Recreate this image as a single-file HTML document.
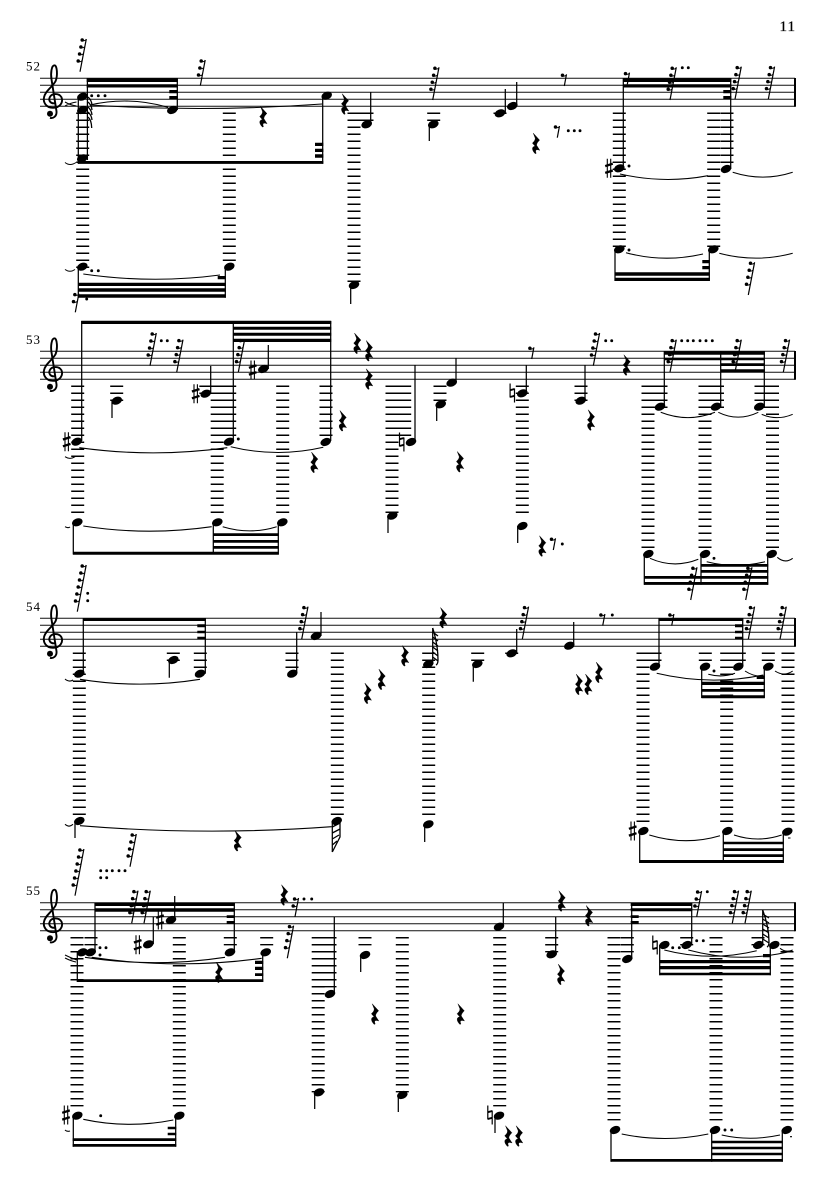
<!DOCTYPE html>
<html><head><meta charset="utf-8"><style>
html,body{margin:0;padding:0;background:#fff}
svg{display:block}
text{font-family:"Liberation Serif",serif;fill:#000}
.st{stroke:#111;stroke-width:1;fill:none}
.s{stroke:#000;stroke-width:1.25;fill:none}
.b{fill:#000}
.t{stroke:#000;stroke-width:1.05;fill:none}
.l{stroke:#000;stroke-width:13;stroke-dasharray:1.5 5.5;fill:none}
.d{stroke:#000;stroke-width:2.9;stroke-linecap:round;fill:none}
.h{stroke:#000;stroke-width:1.3;fill:none}
</style></head><body>
<svg width="835" height="1181" viewBox="0 0 835 1181" xmlns="http://www.w3.org/2000/svg">
<defs>
<ellipse id="n" rx="5.5" ry="3.8" transform="rotate(-22)"/>
<g id="c"><path d="M1.5,25C-2.5,25.5-5,22-3,18.5C-1,15 6,14.5 8.5,19C10.5,24 7,29.5 0,29.5C-7,29.5-10,24-9,19C-8,13-1,9 2.5,3C5,-3 4,-13 1.5,-13C-1.5,-13-2.5,-5-1.5,1L3.5,33C4,38 0,40.5-3,39.5" fill="none" stroke="#000" stroke-width="1.9"/><circle cx="-3" cy="35.5" r="3"/></g>
<path id="q" d="M-2.8,-10.2L3.6,-3.2C1.5,-1 .6,.2 .6,2L3.8,7C.6,5.8-1.4,6.4 .2,10L-.8,10.4C-4.8,6.4-4,3-.8,3L-3.6,-.2C-1.6,-2.2-.8,-3.2-.8,-5.2Z" stroke="#000" stroke-width=".4"/>
<g id="f1"><circle cx="-1.8" cy="-10.7" r="1.75"/><path d="M-1.8,-10.2q2,.8 3.6,-.6" fill="none" stroke="#000" stroke-width="1"/></g>
<g id="f2"><use href="#f1"/><circle cx="-.44" cy="-17.7" r="1.75"/><path d="M-.44,-17.2q2,.8 3.6,-.6" fill="none" stroke="#000" stroke-width="1"/></g>
<g id="f3"><use href="#f2"/><circle cx=".9" cy="-24.7" r="1.75"/><path d="M.9,-24.2q2,.8 3.6,-.6" fill="none" stroke="#000" stroke-width="1"/></g>
<g id="f4"><use href="#f3"/><circle cx="2.2" cy="-31.7" r="1.75"/><path d="M2.2,-31.2q2,.8 3.6,-.6" fill="none" stroke="#000" stroke-width="1"/></g>
<g id="f6"><use href="#f4"/><circle cx="3.55" cy="-38.7" r="1.75"/><path d="M3.55,-38.2q2,.8 3.6,-.6" fill="none" stroke="#000" stroke-width="1"/><circle cx="4.9" cy="-45.7" r="1.75"/><path d="M4.9,-45.2q2,.8 3.6,-.6" fill="none" stroke="#000" stroke-width="1"/></g>
<g id="r1"><use href="#f1"/><path d="M0,0L2.2,-11.7" stroke="#000" stroke-width="1.2"/></g>
<g id="r2"><use href="#f2"/><path d="M0,0L3.55,-18.7" stroke="#000" stroke-width="1.2"/></g>
<g id="r3"><use href="#f3"/><path d="M0,0L4.9,-25.7" stroke="#000" stroke-width="1.2"/></g>
<g id="r4"><use href="#f4"/><path d="M0,0L6.3,-32.7" stroke="#000" stroke-width="1.2"/></g>
<g id="r6"><use href="#f6"/><path d="M0,0L8.9,-46.7" stroke="#000" stroke-width="1.2"/></g>
<g id="sh"><path d="M-1.7,-9.5V9.5M1.7,-9.5V9.5" stroke="#000" stroke-width="1.1" fill="none"/><path d="M-3.8,-2.2L3.8,-4.6M-3.8,4.6L3.8,2.2" stroke="#000" stroke-width="2.3" fill="none"/></g>
<g id="na"><path d="M-2.2,-9.5V4.5M2.2,-4.5V9.5" stroke="#000" stroke-width="1.2" fill="none"/><path d="M-2.2,-2.8L2.2,-4M-2.2,4L2.2,2.8" stroke="#000" stroke-width="1.9" fill="none"/></g>
</defs>
<rect width="835" height="1181" fill="#fff"/>
<text x="779.5" y="31" font-size="15" stroke="#000" stroke-width=".25" textLength="15.5">11</text>
<text x="26" y="70.5" font-size="13" textLength="14">52</text>
<text x="26" y="344" font-size="13" textLength="14">53</text>
<text x="26" y="611" font-size="13" textLength="14">54</text>
<text x="26" y="895" font-size="13" textLength="14">55</text>

<path class="st" d="M40,78.3H795M40,85.3H795M40,92.3H795M40,99.3H795M40,106.3H795M40,351.3H795M40,358.3H795M40,365.3H795M40,372.3H795M40,379.3H795M40,618.3H795M40,625.3H795M40,632.3H795M40,639.3H795M40,646.3H795M40,902.7H795M40,909.7H795M40,916.7H795M40,923.7H795M40,930.7H795"/>
<path d="M795,78V106.8M795,351V379.8M795,618V646.8M795,902.2V931.2" stroke="#000" stroke-width="2" fill="none"/>
<use href="#c" x="53" y="78.3"/><use href="#c" x="53" y="351.3"/><use href="#c" x="53" y="618.3"/><use href="#c" x="53" y="902.7"/>

<!-- ledger lines -->
<path class="l" d="M82.7,112.55V267.95M229.3,112.55V260.95M354,112.55V281.95M367,112.55V120.95M433.7,112.55V120.95M500,112.55V113.95M619.3,112.55V246.95M713.7,112.55V246.95M727,112.55V162.95
M77.7,385.55V512.95M217.2,385.55V512.95M229.7,385.55V435.95M282.7,385.55V512.95M326,385.55V435.95M116.7,385.55V400.95M205.8,385.55V393.95M392,385.55V512.95M404.7,385.55V435.95M440,385.55V400.95M522.3,385.55V512.95M581,385.55V400.95M648,385.55V547.95M661,385.55V407.95M705,385.55V547.95M717.5,385.55V407.95M761,385.55V407.95M772.5,385.55V547.95
M79.3,652.55V814.95M200.3,652.55V667.95M173.3,652.55V660.95M292,652.55V667.95M337.3,652.55V814.95M428.7,652.55V814.95M477.7,652.55V660.95M511.7,652.55V653.95M643,652.55V821.95M655,652.55V660.95M705.3,652.55V660.95M726.7,652.55V821.95M739.3,652.55V660.95M768.3,652.55V660.95M788,652.55V821.95
M77,936.95V1106.35M91,936.95V945.35M179.3,936.95V1106.35M230.3,936.95V945.35M266.7,936.95V945.35M318.2,936.95V1092.35M330,936.95V987.35M365,936.95V945.35M402.3,936.95V1092.35M499.7,936.95V1106.35M551.7,936.95V952.35M614,936.95V1120.35M627.3,936.95V952.35M686.7,936.95V945.35M716,936.95V1120.35M758,936.95V945.35M787,936.95V1120.35"/>

<!-- beams -->
<path class="b" d="M86.7,78.3H177.8V82H86.7zM86.7,84.3H177.8V87.5H86.7zM169.3,90H177.8V93.3H169.3zM169.3,96H177.8V99.3H169.3zM78,161H323.3V163.9H78zM315,142.7H323.3V146H315zM315,148.7H323.3V152H315zM315,154.3H323.3V157.7H315zM78,282.7H225.8V286H78zM78,288.3H225.8V291.7H78zM78,294.3H225.8V297.7H78zM217.7,276H225.8V279.3H217.7zM623,78.3H731.3V82H623zM623,84.3H731.3V87.5H623zM723.3,90H731.3V93.3H723.3zM723.3,96H731.3V99.3H723.3zM615,272.3H709.8V275.7H615zM615,277.7H709.8V281H615zM702.3,260H709.8V263.3H702.3zM702.3,266H709.8V269.3H702.3z
M81.2,320.7H331.2V324H81.2zM233,326.7H331.2V329.7H233zM233,332.7H331.2V335.7H233zM233,338.7H331.2V342H233zM73,551.7H278.8V554.7H73zM213,533.3H278.8V536H213zM213,540H278.8V542.7H213zM213,546H278.8V548.7H213zM664,351.3H764.8V354.7H664zM664,357.7H764.8V360.3H664zM720.5,363.3H764.8V366H720.5zM720.5,369.3H764.8V372.3H720.5zM644,582H768.2V584.9H644zM644,576H768.2V578.7H644zM701.5,564H768.2V566.7H701.5zM701.5,570H768.2V572.7H701.5z
M83,618.3H205.8V621H83zM197.3,624.3H205.8V627.3H197.3zM197.3,630.7H205.8V633.3H197.3zM197.3,636.7H205.8V639.3H197.3zM658.5,618.3H743.2V621H658.5zM735,624.3H743.2V627.3H735zM735,630.7H743.2V633.3H735zM735,636.7H743.2V639.3H735zM701.5,681.7H764.8V685H701.5zM701.5,689H764.8V691.7H701.5zM701.5,695.3H764.8V698.3H701.5zM756.7,676H764.8V679H756.7zM639.3,860H783.8V863H639.3zM723,841.7H783.8V844.3H723zM723,848.3H783.8V851H723zM723,854.3H783.8V857H723z
M95,902.7H234.8V906H95zM95,908.3H234.8V911.7H95zM226.7,915.3H234.8V918H226.7zM226.7,921H234.8V923.7H226.7zM77,979.3H263.2V982H77zM255,960.7H263.2V964H255zM255,966.7H263.2V970H255zM255,973.3H263.2V976H255zM72.7,1138.3H176.2V1141H72.7zM72.7,1144H176.2V1146.7H72.7zM167.7,1126.7H176.2V1129.3H167.7zM167.7,1132.7H176.2V1135.3H167.7zM630.7,902.7H692.2V906H630.7zM630.7,908.3H692.2V911.3H630.7zM630.7,915.3H638.7V918H630.7zM630.7,921H638.7V923.7H630.7zM659.4,960H770.8V963.3H659.4zM659.4,966H770.8V969.3H659.4zM659.4,972.7H770.8V975.3H659.4zM763,954H770.8V957.3H763zM611,1159H782.8V1161.7H611zM711.5,1140.7H782.8V1143.3H711.5zM711.5,1146.7H782.8V1149.3H711.5zM711.5,1152.7H782.8V1155.3H711.5z"/>

<!-- stems -->
<path class="s" d="M78.3,96V163.7M87.4,78.5V160M177.3,78.5V110M322.7,98V163.7M78.3,267V297.7M225.3,267V297.7M350.7,285V304M370.7,92V124M429.3,124V141M505.3,89V113M516.7,82V106M623.3,78.5V168M730.7,78.5V169M615,249V281M709.3,249V281
M81.7,321V441M233.3,321V441M330.7,321V441M73.3,522V554.5M213.3,522V554.5M278.3,522V554.5M112,400V418M210.7,366V393.7M268.3,345V369M388,516V533M415,365V442M456,358V382M436.7,404V421M526.3,365V393M517.7,526V543M585,365V400M664.3,351V407M720.7,351V407M764.3,351V407M644.3,554V584.7M701,554V584.7M767.7,554V584.7
M83.3,618V673.7M205.3,618V673.7M169.3,660V677.7M296.7,632V673M321,612V636M75,821V838M332.3,821V852M432.7,628V664M424.7,824V842M473.3,664V681.7M516.7,629V653M573.7,622V645M659,618V666M742.7,618V666M701.7,666V698M764.3,666V698M639.7,831V863M723.3,831V863M783.3,831V863
M95,903V952M234.3,903V951M77.3,952V982M262.7,952V982M153.3,917V944M174.7,896V920M73.3,1115V1146.7M175.7,1115V1146.7M314.7,1092V1109M334.3,917V994M360.7,955V972M398.3,1095V1112M503.3,903V926M495,1115V1133M555.7,917V954M611,1130V1161.7M631.7,903V959M691.7,903V945M659.7,945V975.3M770.3,945V975.3M762.7,910V945M711.7,1130V1161.7M782.3,1130V1161.7"/>

<!-- hatched flags -->
<path class="h" d="M88,97q3.5,3 4,8M88,102q3.5,3 4,8M88,107q3.5,3 4,8M88,112q3.5,3 4,8M88,117q3.5,3 3.7,11M332.3,827L340,823M332.3,833L340,829M332.3,839L339,835M332.3,845L337,841M340,821V837L332.3,852M432.7,632L438,636M432.7,637L438,641M432.7,642L438,646M432.7,647L438,651M432.7,652L438,656M432.7,657L438,661M432.7,628Q438,645 438,660Q438,664 436,665M762.7,914L769,918M762.7,919L769,923M762.7,924L769,928M762.7,929L769,933M762.7,934L769,938M762.7,939L769,943M762.7,910Q769,927 769,942Q769,946 767,947"/>

<!-- ties -->
<path class="t" d="M90,105Q129,96 168,107.3M90,105Q206,112.5 322,104M65,102Q70,105 76.5,106M65,106Q70,103 76.5,102M65,162.5Q70,166.5 76,162.5M65,269.5Q70,273 75,269.5M83.3,274Q152,284 220,275M620,174Q664,184 708,175.7M732.7,172.3Q763,182 792.7,172.3M626,252.7Q664,263 703,254M719.3,253.3Q756,263 792.7,253.3
M79.3,447.7Q153,458 227.3,447.7M230.7,446.7Q277,458 323.3,447.3M83.3,526Q147,536 211.7,526.7M222.7,526.7Q250,535 276.7,526.7M65,456.7Q70,460 75,456.7M65,526.7Q68,528.5 70,527M660.7,412.3Q688,423 715,412.3M718.3,412.3Q738,422 758.3,412.3M761.7,414.3Q777,421 792.7,414.3M650,558.3Q674,569 698.3,559.3M706.7,561.7Q736,569 765,561.7M777.3,557.3Q785,564 792.7,558.3
M80,679.3Q140,689 200,679.3M65,679Q69,682.5 73,680M65,824.3Q69,828 73,824.3M80,825.7Q206,836 331.7,826.7M656.7,673.3Q710,686 763.3,675M708.3,674.3Q722,678 735,673.3M745,671Q754,677 764,676M775,671Q784,677 792.7,671M649.3,835Q685,846 720,835.7M734,835Q758,843 781.7,835M788,838h2.5
M85,957.3Q155,968 225,957.3M91.7,957.3Q177,970 261.7,958.3M65,955Q71,958 76.7,960M65,958Q71,961 76,962M83.3,1119.3Q128,1129 173.3,1120M65,1130Q67,1132 70,1131M664.3,950Q710,962 756.7,950.7M688.3,950Q740,964 792,951M780,948.3Q786,953 792.7,950M621.7,1134Q665,1143 708.3,1134M721.7,1135Q750,1141.5 780,1135M790,1136.7h2"/>

<!-- noteheads -->
<use href="#n" x="82.3" y="96.7"/><use href="#n" x="82.3" y="110"/><use href="#n" x="82.3" y="158.3"/><use href="#n" x="172.3" y="110"/><use href="#n" x="326.7" y="95.7"/><use href="#n" x="82.3" y="266.7"/><use href="#n" x="229.3" y="266.7"/><use href="#n" x="354" y="285"/><use href="#n" x="366.7" y="124.3"/><use href="#n" x="433.3" y="124.3"/><use href="#n" x="500" y="113.3"/><use href="#n" x="512.3" y="106"/><use href="#n" x="619.3" y="168.3"/><use href="#n" x="726" y="169"/><use href="#n" x="619.3" y="249.3"/><use href="#n" x="713.3" y="249.3"/>
<use href="#n" x="76.7" y="441.7"/><use href="#n" x="229" y="441.7"/><use href="#n" x="325.7" y="442"/><use href="#n" x="77.3" y="522.3"/><use href="#n" x="217.3" y="522.3"/><use href="#n" x="282.3" y="522.3"/><use href="#n" x="116.7" y="400.7"/><use href="#n" x="205.7" y="393.7"/><use href="#n" x="263.3" y="369"/><use href="#n" x="392.3" y="515.7"/><use href="#n" x="411" y="442"/><use href="#n" x="451.7" y="382.7"/><use href="#n" x="440.7" y="404.3"/><use href="#n" x="522.3" y="393.3"/><use href="#n" x="522.3" y="526"/><use href="#n" x="580.7" y="400.7"/><use href="#n" x="660" y="406.7"/><use href="#n" x="716" y="406.7"/><use href="#n" x="759.3" y="406.7"/><use href="#n" x="648.3" y="554"/><use href="#n" x="705" y="554"/><use href="#n" x="771.7" y="554"/>
<use href="#n" x="79.3" y="673.7"/><use href="#n" x="200" y="673.7"/><use href="#n" x="173.3" y="660"/><use href="#n" x="292.3" y="673.7"/><use href="#n" x="316" y="636"/><use href="#n" x="79.3" y="821"/><use href="#n" x="336.7" y="821"/><use href="#n" x="428.3" y="664"/><use href="#n" x="428.3" y="824.3"/><use href="#n" x="477.3" y="664"/><use href="#n" x="511.7" y="653.3"/><use href="#n" x="569.3" y="645.7"/><use href="#n" x="655" y="666.7"/><use href="#n" x="738.3" y="666.7"/><use href="#n" x="705" y="666.7"/><use href="#n" x="768.3" y="666.7"/><use href="#n" x="643.3" y="831"/><use href="#n" x="727.3" y="831"/><use href="#n" x="787.3" y="831.7"/>
<use href="#n" x="82.3" y="952.3"/><use href="#n" x="90.7" y="952.3"/><use href="#n" x="230" y="952.3"/><use href="#n" x="265.7" y="952.3"/><use href="#n" x="148.3" y="944.3"/><use href="#n" x="171" y="920"/><use href="#n" x="77.3" y="1115.7"/><use href="#n" x="179.3" y="1115.7"/><use href="#n" x="319" y="1092.3"/><use href="#n" x="330" y="994"/><use href="#n" x="365" y="955"/><use href="#n" x="402.3" y="1095"/><use href="#n" x="499" y="926.7"/><use href="#n" x="499" y="1115.7"/><use href="#n" x="551.7" y="954.3"/><use href="#n" x="615" y="1130"/><use href="#n" x="627.3" y="959"/><use href="#n" x="686.7" y="945"/><use href="#n" x="664.3" y="945"/><use href="#n" x="774.3" y="945"/><use href="#n" x="758.3" y="945"/><use href="#n" x="715" y="1130"/><use href="#n" x="786.7" y="1130"/>

<!-- accidentals -->
<use href="#sh" x="609" y="168.3"/><use href="#sh" x="66.7" y="441.7"/><use href="#sh" x="195.7" y="393.7"/><use href="#sh" x="252.7" y="370"/><use href="#sh" x="632.7" y="831"/><use href="#sh" x="137.7" y="944.7"/><use href="#sh" x="160" y="920"/><use href="#sh" x="66" y="1115"/>
<use href="#na" x="401.7" y="442"/><use href="#na" x="512.3" y="393"/><use href="#na" x="490" y="1115"/><use href="#na" x="655" y="945"/>

<!-- augmentation dots -->
<path class="d" d="M91.7,95.7h.01M98.3,95.7h.01M105,95.7h.01M91.7,270.7h.01M98.3,270.7h.01M568.3,130.7h.01M574.3,130.7h.01M580,130.7h.01M682.3,67.7h.01M688.3,67.7h.01M629,166h.01M629,250h.01M86.7,299h.01M238.3,439h.01M161.3,340.7h.01M167.3,340.7h.01M605.7,340.7h.01M611.7,340.7h.01M681.7,340.7h.01M687.7,340.7h.01M693.3,340.7h.01M700,340.7h.01M706,340.7h.01M712.3,340.7h.01M562.3,544h.01M714,558.3h.01M87.7,593.3h.01M87.7,600.7h.01M612.3,615h.01M714,671h.01M100.7,870.7h.01M106.7,870.7h.01M112.3,870.7h.01M119,870.7h.01M125,870.7h.01M100.7,877.7h.01M106.7,877.7h.01M100,947.7h.01M106,947.7h.01M100,955h.01M304,899h.01M311.7,899h.01M100.7,1115.7h.01M672.7,947.7h.01M679.3,947.7h.01M696.7,940.7h.01M703.3,940.7h.01M725,1130h.01M731.7,1130h.01M707.3,891.7h.01"/>

<!-- quarter rests -->
<use href="#q" x="263.3" y="116.7"/><use href="#q" x="345" y="104"/><use href="#q" x="536" y="143.3"/><use href="#q" x="357.3" y="343.3"/><use href="#q" x="369" y="350.7"/><use href="#q" x="369" y="379"/><use href="#q" x="342.7" y="420.7"/><use href="#q" x="314.3" y="462.3"/><use href="#q" x="460" y="461.7"/><use href="#q" x="591" y="420"/><use href="#q" x="626.7" y="365"/><use href="#q" x="542.3" y="546"/><use href="#q" x="405" y="655.7"/><use href="#q" x="381.7" y="679.3"/><use href="#q" x="367.7" y="693.3"/><use href="#q" x="237.7" y="840.7"/><use href="#q" x="443.3" y="617.7"/><use href="#q" x="599" y="672.3"/><use href="#q" x="588.3" y="684.3"/><use href="#q" x="579" y="684.3"/><use href="#q" x="219" y="972.3"/><use href="#q" x="284.3" y="895"/><use href="#q" x="375" y="1014"/><use href="#q" x="460.7" y="1014"/><use href="#q" x="508.3" y="1136"/><use href="#q" x="519" y="1136"/><use href="#q" x="561.7" y="901"/><use href="#q" x="589" y="915.7"/><use href="#q" x="561" y="974.3"/>

<!-- flagged rests -->
<use href="#r4" x="80" y="71.7"/><use href="#r4" x="432.7" y="100"/><use href="#r4" x="670" y="100"/><use href="#r4" x="735" y="99.3"/><use href="#r4" x="768.3" y="99.3"/><use href="#r4" x="748.3" y="295"/><use href="#r4" x="150" y="365.7"/><use href="#r4" x="176.7" y="372.3"/><use href="#r4" x="238.3" y="372.3"/><use href="#r4" x="593.3" y="365.7"/><use href="#r4" x="670" y="372.3"/><use href="#r4" x="735" y="372.3"/><use href="#r4" x="783.3" y="372.3"/><use href="#r4" x="690.7" y="600"/><use href="#r4" x="745.7" y="600"/><use href="#r4" x="301.7" y="639.3"/><use href="#r4" x="130" y="866.7"/><use href="#r4" x="522.3" y="639.3"/><use href="#r4" x="748.3" y="639.3"/><use href="#r4" x="780" y="639.3"/><use href="#r4" x="131.7" y="923.3"/><use href="#r4" x="144" y="923.3"/><use href="#r4" x="287.3" y="958.3"/><use href="#r4" x="732.3" y="923.3"/><use href="#r4" x="745" y="923.3"/>
<use href="#r3" x="200.3" y="85.7"/><use href="#r3" x="696.7" y="916.7"/>
<use href="#r2" x="75.3" y="312.3"/><use href="#r2" x="295" y="916.7"/>
<use href="#r1" x="564.3" y="86"/><use href="#r1" x="557.3" y="137.7"/><use href="#r1" x="627.3" y="84.3"/><use href="#r1" x="531.7" y="359"/><use href="#r1" x="553.3" y="550"/><use href="#r1" x="602.7" y="625.7"/><use href="#r1" x="671.7" y="625.7"/>
<use href="#r6" x="77.3" y="611.7"/><use href="#r6" x="75" y="895.7"/>
</svg>
</body></html>
